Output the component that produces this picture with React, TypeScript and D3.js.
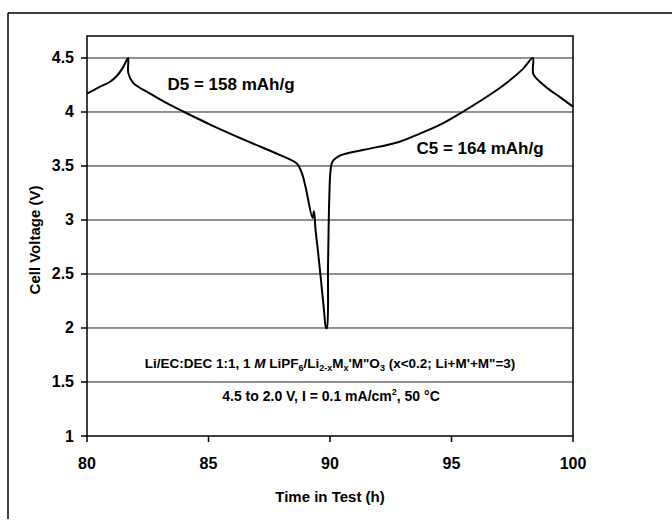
import React from "react";
import * as d3 from "d3";

// Time in test (h) and cell voltage (V)
const timeH = [
  80.0, 80.5, 80.95, 81.25, 81.5, 81.69,
  81.7, 81.9, 82.6, 83.3, 84.0, 85.2, 86.6, 87.95, 88.65, 88.85, 89.0, 89.28, 89.34, 89.4, 89.5, 89.63, 89.75, 89.84,
  89.87, 89.92, 89.97, 90.02, 90.1, 90.45, 91.4, 92.8, 93.7, 94.6, 95.45, 96.97, 97.9, 98.35,
  98.37, 98.9, 99.45, 100.0,
];
const voltage = [
  4.17, 4.23, 4.28, 4.34, 4.42, 4.5,
  4.36, 4.27, 4.17, 4.08, 4.0, 3.87, 3.73, 3.6, 3.52, 3.43, 3.3, 3.02, 3.08, 2.92, 2.72, 2.44, 2.17, 2.0,
  2.0, 2.6, 3.2, 3.45, 3.54, 3.6, 3.65, 3.72, 3.8, 3.89, 4.0, 4.22, 4.39, 4.5,
  4.35, 4.23, 4.14, 4.05,
];
const xTicks = [80, 85, 90, 95, 100];
const yTicks = [1, 1.5, 2, 2.5, 3, 3.5, 4, 4.5];
const yTickLabels = ["1", "1.5", "2", "2.5", "3", "3.5", "4", "4.5"];
const discharge = "D5 = 158 mAh/g";
const charge = "C5 = 164 mAh/g";
const xTitle = "Time in Test (h)";
const yTitle = "Cell Voltage (V)";

export default function App() {
  const W = 672, H = 521;
  const L = 87, R = 573, T = 36, B = 436;
  const x = d3.scaleLinear().domain([80, 100]).range([L, R]);
  const y = d3.scaleLinear().domain([1, 4.7037]).range([B, T]);
  const pts = timeH.map((t, i) => [t, voltage[i]] as [number, number]);
  const line = d3
    .line<[number, number]>()
    .x((d) => x(d[0]))
    .y((d) => y(d[1]))
    .curve(d3.curveCatmullRom.alpha(0.5));
  const font = "'Liberation Sans', Arial, sans-serif";
  return (
    <svg
      width={W}
      height={H}
      style={{ position: "absolute", left: 0, top: 0, background: "#fff" }}
      fontFamily={font}
      fontWeight="bold"
    >
      {/* outer frame */}
      <line x1={8} y1={13} x2={672} y2={13} stroke="#000" strokeWidth={1.5} />
      <line x1={8} y1={13} x2={8} y2={519} stroke="#000" strokeWidth={1.5} />
      {/* grid */}
      {yTicks.slice(1).map((v) => (
        <line key={"g" + v} x1={L} x2={R} y1={y(v)} y2={y(v)} stroke="#222" strokeWidth={1} />
      ))}
      {/* plot frame */}
      <rect x={L} y={T} width={R - L} height={B - T} fill="none" stroke="#000" strokeWidth={1.5} />
      {/* y ticks */}
      {yTicks.map((v, i) => (
        <g key={"y" + v}>
          <line x1={L - 6} x2={L} y1={y(v)} y2={y(v)} stroke="#000" strokeWidth={1.5} />
          <text x={74} y={y(v) + 5.5} textAnchor="end" fontSize={16}>
            {yTickLabels[i]}
          </text>
        </g>
      ))}
      {/* x ticks */}
      {xTicks.map((t) => (
        <g key={"x" + t}>
          <line x1={x(t)} x2={x(t)} y1={B} y2={B + 6} stroke="#000" strokeWidth={1.5} />
          <text x={x(t)} y={469} textAnchor="middle" fontSize={16}>
            {t}
          </text>
        </g>
      ))}
      {/* curve */}
      <path d={line(pts) ?? ""} fill="none" stroke="#000" strokeWidth={2} strokeLinejoin="round" />
      {/* annotations */}
      <text x={231} y={90} textAnchor="middle" fontSize={17}>
        {discharge}
      </text>
      <text x={480} y={154} textAnchor="middle" fontSize={17}>
        {charge}
      </text>
      <text x={330} y={368} textAnchor="middle" fontSize={13.5}>
        Li/EC:DEC 1:1, 1 <tspan fontStyle="italic">M</tspan> LiPF
        <tspan fontSize={9} dy={3}>6</tspan>
        <tspan dy={-3}>/Li</tspan>
        <tspan fontSize={9} dy={3}>2-x</tspan>
        <tspan dy={-3}>M</tspan>
        <tspan fontSize={9} dy={3}>x</tspan>
        <tspan dy={-3}>'M"O</tspan>
        <tspan fontSize={9} dy={3}>3</tspan>
        <tspan dy={-3}> (x&lt;0.2; Li+M'+M"=3)</tspan>
      </text>
      <text x={331} y={401} textAnchor="middle" fontSize={14}>
        4.5 to 2.0 V, I = 0.1 mA/cm
        <tspan fontSize={9} dy={-6}>2</tspan>
        <tspan dy={6}>, 50 °C</tspan>
      </text>
      {/* axis titles */}
      <text x={330} y={502} textAnchor="middle" fontSize={15}>
        {xTitle}
      </text>
      <text transform="translate(40,240) rotate(-90)" textAnchor="middle" fontSize={15}>
        {yTitle}
      </text>
    </svg>
  );
}
